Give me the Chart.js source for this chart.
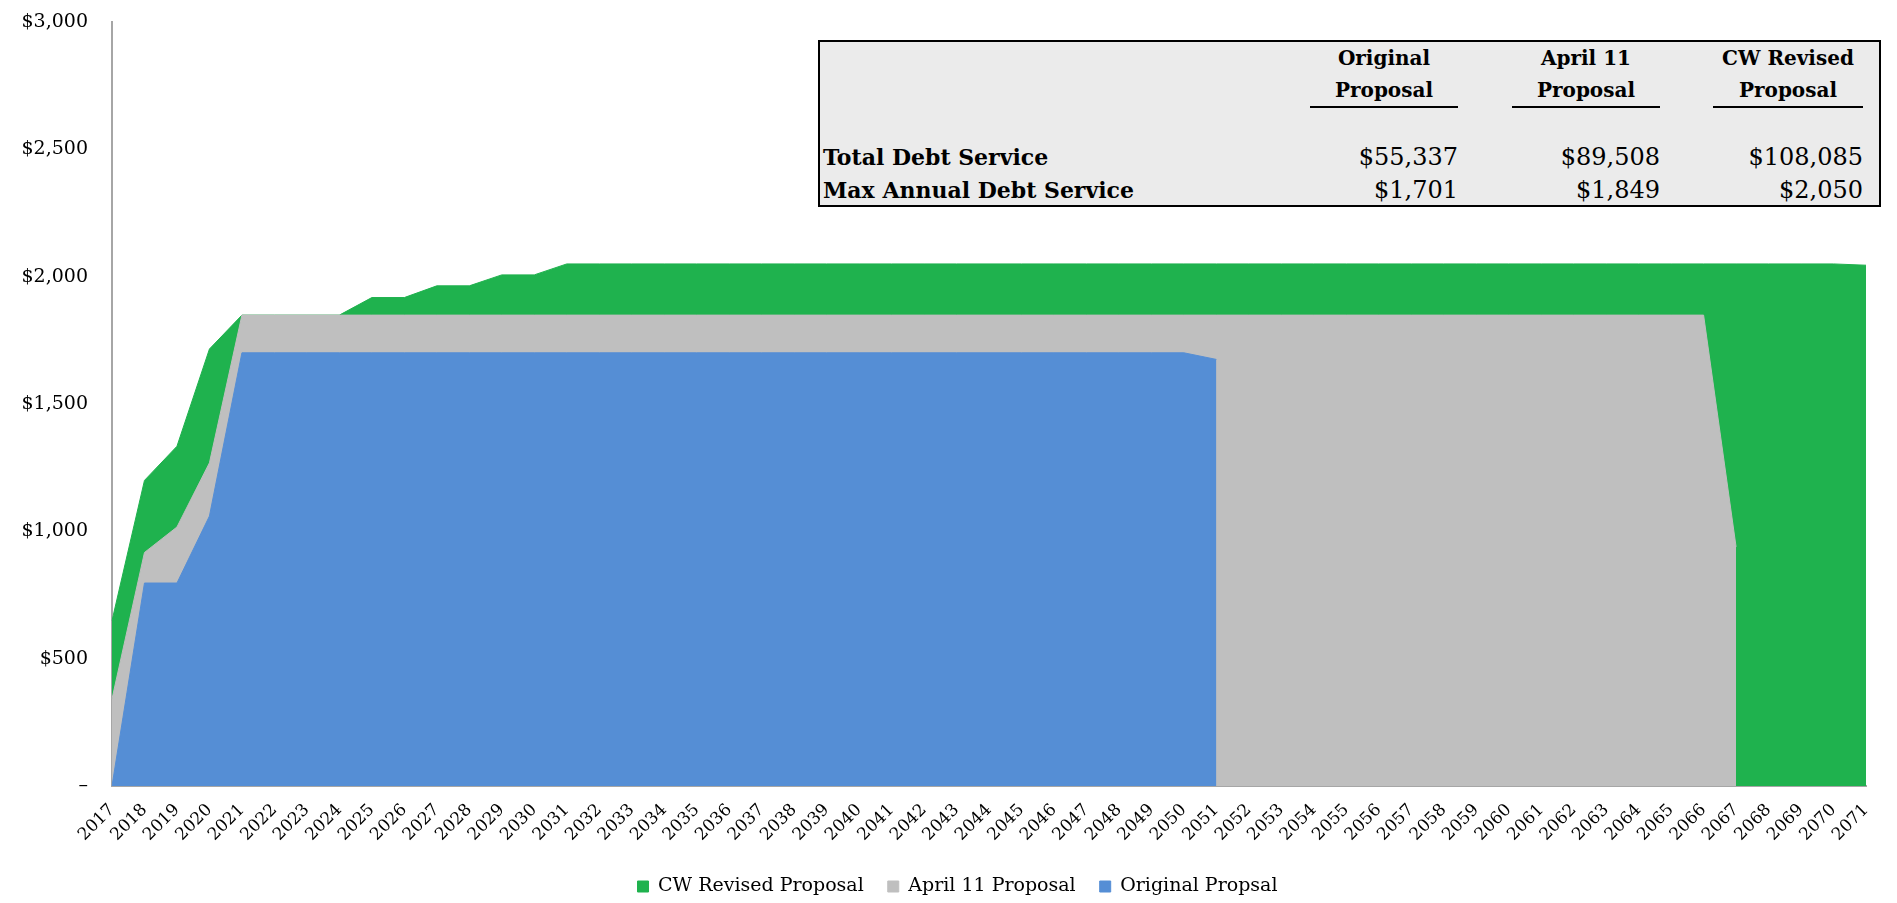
<!DOCTYPE html>
<html>
<head>
<meta charset="utf-8">
<title>Debt Service Comparison</title>
<script src="https://cdn.jsdelivr.net/npm/chart.js@4.4.0/dist/chart.umd.min.js"></script>
<style>
  html, body { margin: 0; padding: 0; background: #fff; }
  #wrap { position: relative; width: 1897px; height: 903px; }
  #debtChart { position: absolute; left: 0; top: 0; }
  #summary {
    position: absolute; left: 818px; top: 40px; width: 1063px; height: 167px;
    box-sizing: border-box; border: 2px solid #000; background: #ebebeb;
    font-family: 'DejaVu Serif', serif; color: #000; padding-left: 3px;
  }
  #summary .grid { display: grid; grid-template-columns: 487px 148px 54px 148px 53px 150px; }
  #summary .head { height: 64px; line-height: 32px; font-weight: bold; font-size: 20px; text-align: center; }
  #summary .head.col { border-bottom: 2px solid #000; }
  #summary .gap { height: 33px; grid-column: 1 / -1; }
  #summary .label { font-weight: bold; font-size: 22px; line-height: 33px; white-space: nowrap; }
  #summary .num { font-size: 24px; line-height: 33px; text-align: right; }
</style>
</head>
<body>
<div id="wrap">
  <canvas id="debtChart" width="1897" height="903"></canvas>
  <div id="summary"><div class="grid" id="summaryGrid"></div></div>
</div>
<script>
// 연도 (2017 ~ 2071)
const years = Array.from({ length: 55 }, (_, i) => String(2017 + i));

// 연도별 원리금 상환액
const originalProposal = [
    0, 797, 797, 1060, 1701, 1701, 1701, 1701, 1701, 1701,
    1701, 1701, 1701, 1701, 1701, 1701, 1701, 1701, 1701, 1701,
    1701, 1701, 1701, 1701, 1701, 1701, 1701, 1701, 1701, 1701,
    1701, 1701, 1701, 1701, 1675, null, null, null, null, null,
    null, null, null, null, null, null, null, null, null, null,
    null, null, null, null, null
];
const april11Proposal = [
    342, 917, 1017, 1269, 1849, 1849, 1849, 1849, 1849, 1849,
    1849, 1849, 1849, 1849, 1849, 1849, 1849, 1849, 1849, 1849,
    1849, 1849, 1849, 1849, 1849, 1849, 1849, 1849, 1849, 1849,
    1849, 1849, 1849, 1849, 1849, 1849, 1849, 1849, 1849, 1849,
    1849, 1849, 1849, 1849, 1849, 1849, 1849, 1849, 1849, 1849,
    939, null, null, null, null
];
const cwRevisedProposal = [
    649, 1200, 1334, 1716, 1849, 1849, 1849, 1849, 1918, 1918,
    1964, 1964, 2007, 2007, 2050, 2050, 2050, 2050, 2050, 2050,
    2050, 2050, 2050, 2050, 2050, 2050, 2050, 2050, 2050, 2050,
    2050, 2050, 2050, 2050, 2050, 2050, 2050, 2050, 2050, 2050,
    2050, 2050, 2050, 2050, 2050, 2050, 2050, 2050, 2050, 2050,
    2050, 2050, 2050, 2050, 2045
];

// 요약 표
const summaryColumns = [['Original', 'Proposal'], ['April 11', 'Proposal'], ['CW Revised', 'Proposal']];
const summaryRows = ['Total Debt Service', 'Max Annual Debt Service'];
const totalDebtService = [55337, 89508, 108085];
const maxAnnualDebtService = [1701, 1849, 2050];

const money = (v) => '$' + v.toLocaleString('en-US');

const grid = document.getElementById('summaryGrid');
function cell(cls, html) {
    const d = document.createElement('div');
    d.className = cls;
    d.innerHTML = html;
    grid.appendChild(d);
}
cell('head', '');
summaryColumns.forEach((c, i) => {
    cell('head col', c.join('<br>'));
    if (i < summaryColumns.length - 1) cell('head', '');
});
cell('gap', '');
[totalDebtService, maxAnnualDebtService].forEach((vals, r) => {
    cell('label', summaryRows[r]);
    vals.forEach((v, i) => {
        cell('num', money(v));
        if (i < vals.length - 1) cell('num', '');
    });
});

// 상환액 비교 차트
const serif = "'DejaVu Serif', serif";
const debtChartCtx = document.getElementById('debtChart').getContext('2d');
const debtChart = new Chart(debtChartCtx, {
    type: 'line',
    data: {
        labels: years,
        datasets: [{
            label: 'Original Propsal',
            data: originalProposal,
            backgroundColor: '#558ed5',
            borderColor: '#558ed5',
            borderWidth: 1,
            fill: 'origin'
        }, {
            label: 'April 11 Proposal',
            data: april11Proposal,
            backgroundColor: '#bfbfbf',
            borderColor: '#bfbfbf',
            borderWidth: 1,
            fill: 'origin'
        }, {
            label: 'CW Revised Proposal',
            data: cwRevisedProposal,
            backgroundColor: '#1fb24e',
            borderColor: '#1fb24e',
            borderWidth: 1,
            fill: 'origin'
        }]
    },
    options: {
        responsive: false,
        animation: false,
        layout: {
            padding: { left: 18, right: 0, top: 22, bottom: -3 }
        },
        elements: {
            point: { radius: 0 },
            line: { tension: 0 }
        },
        scales: {
            x: {
                offset: false,
                grid: { display: false, drawTicks: false },
                border: { color: '#a6a6a6', width: 2 },
                ticks: {
                    autoSkip: false,
                    minRotation: 45,
                    maxRotation: 45,
                    padding: 14,
                    color: '#000',
                    font: { family: serif, size: 17 }
                },
                afterFit: (scale) => {
                    scale.height = 67;
                    scale.paddingTop = 0;
                    scale.paddingRight = 31;
                }
            },
            y: {
                min: 0,
                max: 3000,
                grid: { display: false, drawTicks: false },
                border: { color: '#a6a6a6', width: 2 },
                ticks: {
                    stepSize: 500,
                    padding: 24,
                    color: '#000',
                    font: { family: serif, size: 19 },
                    callback: (value) => value === 0 ? '–' : money(value)
                },
                afterFit: (scale) => {
                    scale.width = 94;
                    scale.paddingTop = 0;
                    scale.paddingBottom = 0;
                }
            }
        },
        plugins: {
            legend: {
                position: 'bottom',
                reverse: true,
                labels: {
                    boxWidth: 11,
                    boxHeight: 11,
                    padding: 24,
                    color: '#000',
                    font: { family: serif, size: 19 }
                }
            },
            tooltip: { enabled: false }
        }
    }
});
</script>
</body>
</html>
